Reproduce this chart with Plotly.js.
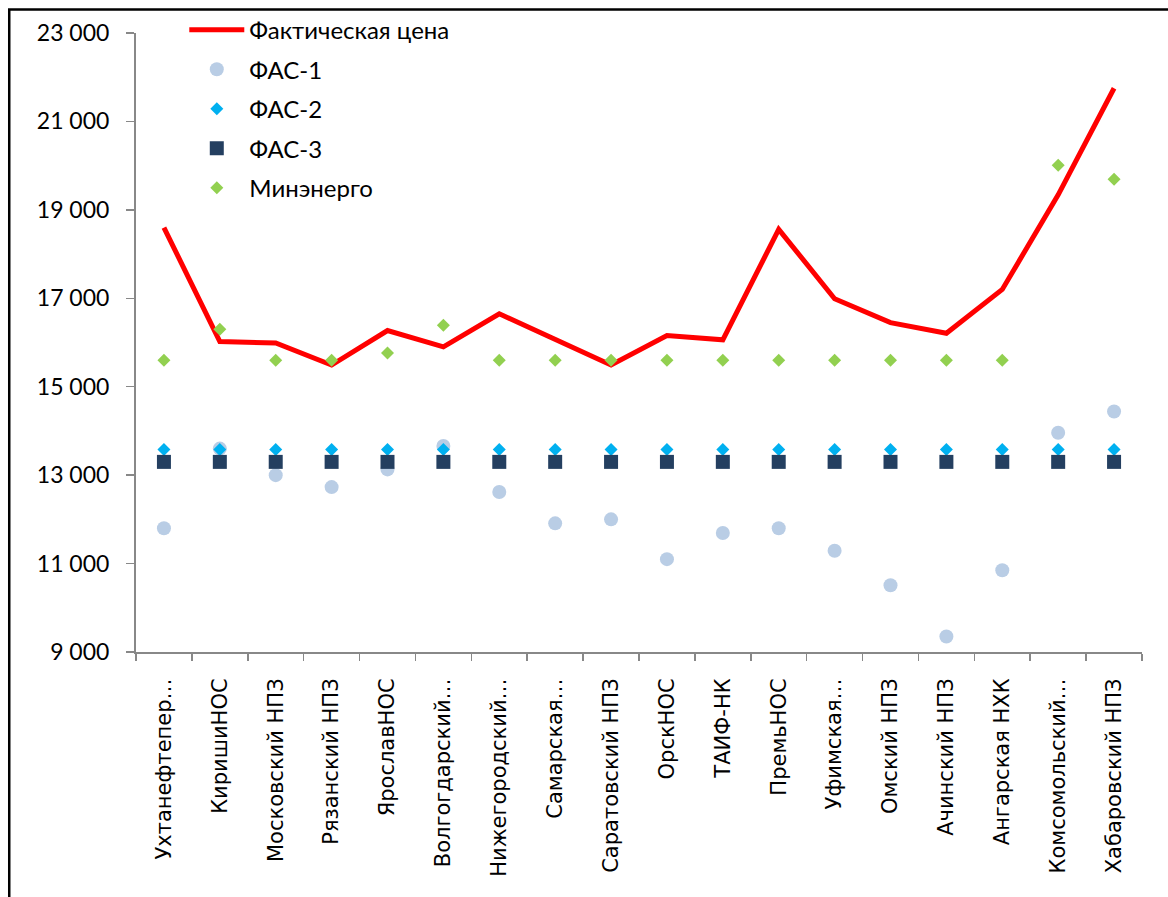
<!DOCTYPE html>
<html>
<head>
<meta charset="utf-8">
<script src="https://cdn.plot.ly/plotly-3.0.1.min.js"></script>
<style>html,body{margin:0;padding:0;background:#fff;}#chart{width:1168px;height:897px;}</style>
</head>
<body>
<div id="chart"></div>
<script>
const categories = ["Ухтанефтепер…", "КиришиНОС", "Московский НПЗ", "Рязанский НПЗ", "ЯрославНОС", "Волгогдарский…", "Нижегородский…", "Самарская…", "Саратовский НПЗ", "ОрскНОС", "ТАИФ-НК", "ПремьНОС", "Уфимская…", "Омский НПЗ", "Ачинский НПЗ", "Ангарская НХК", "Комсомольский…", "Хабаровский НПЗ"];
const factPrice = [18600, 16020, 15990, 15490, 16270, 15900, 16650, 16060, 15490, 16160, 16060, 18560, 16990, 16450, 16210, 17200, 19340, 21750];
const fas1 = [11800, 13600, 13000, 12730, 13130, 13660, 12620, 11910, 12000, 11100, 11690, 11800, 11290, 10510, 9350, 10850, 13960, 14440];
const fas2 = [13580, 13580, 13580, 13580, 13580, 13580, 13580, 13580, 13580, 13580, 13580, 13580, 13580, 13580, 13580, 13580, 13580, 13580];
const fas3 = [13300, 13300, 13300, 13300, 13300, 13300, 13300, 13300, 13300, 13300, 13300, 13300, 13300, 13300, 13300, 13300, 13300, 13300];
const minenergo = [15600, 16300, 15600, 15600, 15760, 16390, 15600, 15600, 15600, 15600, 15600, 15600, 15600, 15600, 15600, 15600, 20010, 19690];
const yTicks = [9000, 11000, 13000, 15000, 17000, 19000, 21000, 23000];
const yTickText = ["9 000", "11 000", "13 000", "15 000", "17 000", "19 000", "21 000", "23 000"];

const traces = [
  {x: categories, y: factPrice, name: "Фактическая цена", type: "scatter", mode: "lines",
   line: {color: "#FF0000", width: 5}, legendgroup: "a"},
  {x: categories, y: fas1, name: "ФАС-1", type: "scatter", mode: "markers",
   marker: {symbol: "circle", color: "#B9CDE5", size: 14}, legendgroup: "b"},
  {x: categories, y: fas2, name: "ФАС-2", type: "scatter", mode: "markers",
   marker: {symbol: "diamond", color: "#00B0F0", size: 10}, legendgroup: "c"},
  {x: categories, y: fas3, name: "ФАС-3", type: "scatter", mode: "markers",
   marker: {symbol: "square", color: "#243F60", size: 14}, legendgroup: "d"},
  {x: categories, y: minenergo, name: "Минэнерго", type: "scatter", mode: "markers",
   marker: {symbol: "diamond", color: "#92D050", size: 10}, legendgroup: "e"}
];

const layout = {
  width: 1168, height: 897,
  margin: {l: 136, r: 26, t: 33, b: 245, pad: 0, autoexpand: false},
  paper_bgcolor: "#ffffff", plot_bgcolor: "#ffffff",
  showlegend: true,
  legend: {x: 0.048, y: 1.041, xanchor: "left", yanchor: "top", bgcolor: "rgba(0,0,0,0)",
           font: {family: "Lato, sans-serif", size: 24, color: "#000"}, itemwidth: 55, tracegroupgap: 5.3},
  xaxis: {type: "category", range: [-0.5, 17.5], showline: true, linecolor: "#888", linewidth: 2,
          ticks: "outside", ticklen: 7, tickcolor: "#888", tickwidth: 1.5, tickson: "boundaries",
          tickangle: -90, showgrid: false, zeroline: false, automargin: false, ticklabelstandoff: 16,
          tickfont: {family: "DejaVu Sans, sans-serif", size: 21, color: "#000"}},
  yaxis: {range: [9000, 23000], tickvals: yTicks, ticktext: yTickText, showline: true, linecolor: "#888",
          linewidth: 2, ticks: "outside", ticklen: 8, tickcolor: "#888", tickwidth: 1.5,
          showgrid: false, zeroline: false, automargin: false, ticklabelstandoff: 12,
          tickfont: {family: "Lato, sans-serif", size: 23, color: "#000"}},
  shapes: [{type: "rect", xref: "paper", yref: "paper", x0: -0.126, x1: 1.2, y0: -0.5, y1: 1.038,
            line: {color: "#000", width: 2.5}, fillcolor: "rgba(0,0,0,0)", layer: "below"}]
};

Plotly.newPlot("chart", traces, layout, {displayModeBar: false, staticPlot: true});
</script>
</body>
</html>
